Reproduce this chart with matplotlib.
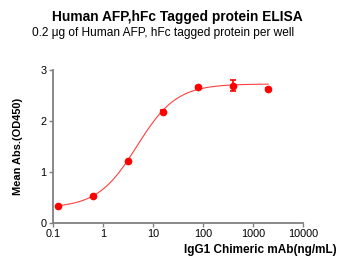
import numpy as np
import matplotlib
matplotlib.use("Agg")
import matplotlib.pyplot as plt

plt.rcParams['font.family'] = ['Liberation Sans', 'DejaVu Sans']

conc = [0.128, 0.64, 3.2, 16, 80, 400, 2000]
od = [0.33, 0.52, 1.21, 2.18, 2.67, 2.69, 2.63]
err = [0.0, 0.0, 0.0, 0.02, 0.02, 0.10, 0.02]
xticks = [0.1, 1, 10, 100, 1000, 10000]
xticklabels = ["0.1", "1", "10", "100", "1000", "10000"]
yticks = [0, 1, 2, 3]
# 4PL fit parameters
bottom, top, ec50, hill = 0.29, 2.72, 4.8, 1.1

fig = plt.figure(figsize=(3.5, 2.68), dpi=100)
ax = fig.add_axes([53/350, 1-222.7/268, 250/350, 153/268])

xc = np.logspace(np.log10(conc[0]), np.log10(conc[-1]), 300)
yc = bottom + (top - bottom) / (1 + (ec50 / xc) ** hill)
ax.plot(xc, yc, color='#ff4040', lw=0.8, zorder=2)
ax.errorbar(conc, od, yerr=err, fmt='o', color='#ff0000', ms=4.5, capsize=2.5,
            elinewidth=1.2, capthick=1.2, zorder=3)

ax.set_xscale('log')
ax.set_xlim(0.1, 10000)
ax.set_ylim(0, 3)
ax.set_xticks(xticks)
ax.set_xticklabels(xticklabels)
ax.xaxis.set_minor_locator(matplotlib.ticker.NullLocator())
ax.set_yticks(yticks)
for s in ['top', 'right']:
    ax.spines[s].set_visible(False)
for s in ['left', 'bottom']:
    ax.spines[s].set_color('#808080')
    ax.spines[s].set_linewidth(1.3)
ax.tick_params(colors='#808080', labelcolor='black', labelsize=7.8, length=3, width=1, pad=1.5)

fig.text(177/350, 1-17/268, 'Human AFP,hFc Tagged protein ELISA', ha='center', va='center',
         fontsize=9.9, fontweight='bold')
fig.text(163.5/350, 1-33/268, '0.2 \u03bcg of Human AFP, hFc tagged protein per well', ha='center',
         va='center', fontsize=8.6)
fig.text(337/350, 1-252.5/268, 'IgG1 Chimeric mAb(ng/mL)', ha='right', va='baseline',
         fontsize=8.5, fontweight='bold')
fig.text(18/350, 1-146/268, 'Mean Abs.(OD450)', ha='center', va='center', rotation=90,
         fontsize=7.9, fontweight='bold')

fig.savefig('out.png', dpi=100)
